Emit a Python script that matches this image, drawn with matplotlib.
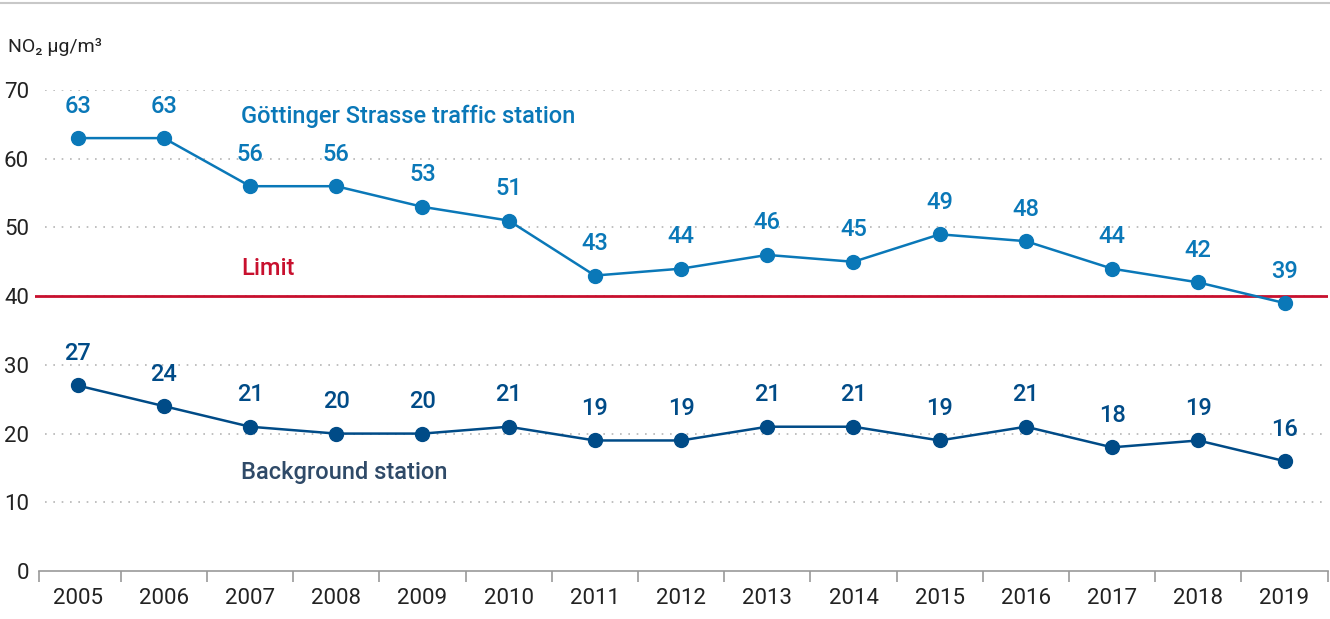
import matplotlib.pyplot as plt
import numpy as np

plt.rcParams['font.family'] = ['Roboto', 'DejaVu Sans']

years = [str(y) for y in range(2005, 2020)]
traffic = [63, 63, 56, 56, 53, 51, 43, 44, 46, 45, 49, 48, 44, 42, 39]
background = [27, 24, 21, 20, 20, 21, 19, 19, 21, 21, 19, 21, 18, 19, 16]
limit = 40

c_traffic = "#0a78b8"
c_back = "#004b87"
c_back_txt = "#2f4a68"
c_limit = "#c8102e"
c_grid = "#b5b5b5"

fig = plt.figure(figsize=(13.3, 6.19), dpi=100)
ax = fig.add_axes([0.026, 0.0775, 0.9722, 0.7771])
x = np.arange(len(years))

ax.set_xlim(-0.5, len(years) - 0.5)
ax.set_ylim(0, 70)

for v in range(10, 80, 10):
    ax.axhline(v, xmin=0.008, color=c_grid, lw=1.2, ls=(0, (1, 4)), zorder=1)

ax.axhline(limit, color=c_limit, lw=2, zorder=2)

ax.plot(x, traffic, color=c_traffic, lw=1.8, marker="o", ms=10, zorder=3, clip_on=False)
ax.plot(x, background, color=c_back, lw=1.8, marker="o", ms=10, zorder=3, clip_on=False)

for xi, v in zip(x, traffic):
    ax.annotate(str(v), (xi, v), xytext=(0, 23), textcoords="offset points",
                ha="center", va="center", fontsize=17, fontweight="medium", color=c_traffic)
for xi, v in zip(x, background):
    ax.annotate(str(v), (xi, v), xytext=(0, 23), textcoords="offset points",
                ha="center", va="center", fontsize=17, fontweight="medium", color=c_back)

ax.text(1.9, 66.2, "Göttinger Strasse traffic station", fontsize=17,
        fontweight="medium", color=c_traffic, va="center")
ax.text(1.9, 44, "Limit", fontsize=17, fontweight="medium", color=c_limit, va="center")
ax.text(1.9, 14.4, "Background station", fontsize=17, fontweight="medium",
        color=c_back_txt, va="center")

for s in ["top", "right", "left"]:
    ax.spines[s].set_visible(False)
ax.spines["bottom"].set_color("#999999")
ax.spines["bottom"].set_linewidth(1.2)
ax.spines["bottom"].set_bounds(-0.45, len(years) - 0.5)

ax.set_yticks(range(0, 80, 10))
ax.tick_params(axis="y", length=0, labelsize=16, pad=4, colors="#222222")
ax.set_xticks(x)
ax.set_xticklabels(years)
ax.tick_params(axis="x", which="major", length=0, labelsize=16, pad=12, colors="#222222")
ax.set_xticks(np.r_[-0.45, np.arange(0.5, len(years), 1)], minor=True)
ax.tick_params(axis="x", which="minor", length=8, width=1.2, color="#999999")

fig.text(0.006, 0.924, "NO₂ µg/m³", fontsize=14, color="#222222", va="center")
fig.add_artist(plt.Line2D([0, 1], [0.995, 0.995], color="#c8c8c8", lw=1.5))

fig.savefig("out.png", dpi=100)
